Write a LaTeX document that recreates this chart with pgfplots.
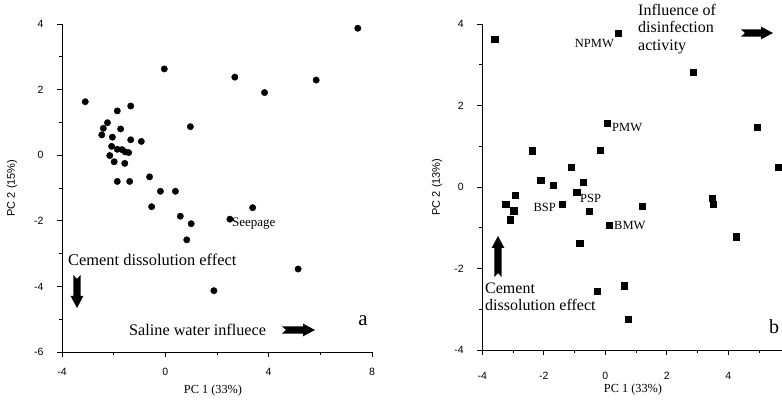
\documentclass[border=0pt]{standalone}
\usepackage{fontspec}
\setmainfont{Liberation Serif}
\setsansfont{Liberation Sans}
\usepackage{pgfplots}
\pgfplotsset{compat=1.18}
\newcommand{\blockarrow}[4]{%
  \begin{scope}[shift={(#1pt,#2pt)},rotate=#3]
  \pgfmathsetmacro{\L}{#4}\pgfmathsetmacro{\H}{#4-12}
  \fill[black] (0pt,3.6pt) -- (\H pt,3.6pt) -- (\H pt,6.4pt) -- (\L pt,0pt) -- (\H pt,-6.4pt) -- (\H pt,-3.6pt) -- (0pt,-3.6pt) -- (4pt,0pt) -- cycle;
  \end{scope}}
\pgfplotsset{
  pcaaxis/.style={
    scale only axis,
    axis lines=left,
    axis line style={-, line width=0.9pt},
    tick align=outside,
    major tick length=5pt,
    minor tick length=3pt,
    every tick/.style={black, line width=0.8pt},
    ticklabel style={font=\fontsize{10.5}{12}\selectfont\sffamily},
    yticklabel style={xshift=-10pt},
    clip=false,
  }
}
\begin{document}
\begin{tikzpicture}
% ---------- Panel a ----------
\begin{axis}[pcaaxis,
  at={(62pt,49pt)}, anchor=south west,
  width=310pt, height=328pt,
  xmin=-4, xmax=8, ymin=-6, ymax=4,
  xtick={-4,0,4,8}, xticklabels={-4,0,4,8},
  minor xtick={-2,2,6},
  ytick={-6,-4,-2,0,2,4}, yticklabels={-6,-4,-2,0,2,4},
  minor ytick={-5,-3,-1,1,3},
  xticklabel style={yshift=-8pt},
]
\addplot[only marks, mark=*, mark size=3.2pt, black] coordinates {
(-3.10,1.63) (-0.04,2.63) (2.69,2.38) (3.84,1.91) (5.84,2.29) (7.45,3.87)
(0.97,0.87) (-1.34,1.50) (-1.86,1.35) (-2.24,0.99) (-2.40,0.82) (-2.46,0.62)
(-1.73,0.80) (-2.05,0.55) (-1.34,0.47) (-0.93,0.42) (-2.08,0.27) (-1.86,0.18)
(-1.68,0.17) (-1.55,0.10) (-1.42,0.08) (-2.15,-0.01) (-1.98,-0.20) (-1.57,-0.25)
(-0.61,-0.66) (-1.86,-0.80) (-1.38,-0.80) (-0.19,-1.10) (0.39,-1.10)
(-0.53,-1.57) (0.58,-1.86) (1.00,-2.09) (0.83,-2.58) (3.38,-1.60)
(2.50,-1.95) (5.14,-3.47) (1.88,-4.13)
};
\end{axis}
% ---------- Panel b ----------
\begin{axis}[pcaaxis,
  at={(482.3pt,51pt)}, anchor=south west,
  width=307.4pt, height=326pt,
  xmin=-4, xmax=6, ymin=-4, ymax=4,
  xtick={-4,-2,0,2,4,6}, xticklabels={-4,-2,0,2,4,{}},
  minor xtick={-3,-1,1,3,5},
  ytick={-4,-2,0,2,4}, yticklabels={-4,-2,0,2,4},
  minor ytick={-3,-1,1,3},
  xticklabel style={yshift=-14pt},
]
\addplot[only marks, mark=square*, mark size=3.1pt, black] coordinates {
(-3.60,3.62) (0.43,3.77) (2.85,2.82) (0.07,1.56) (-0.16,0.90) (-2.38,0.89)
(-1.10,0.48) (-2.10,0.16) (-1.69,0.05) (-0.73,0.11) (4.93,1.47) (5.64,0.48)
(-2.92,-0.20) (-0.93,-0.13) (3.47,-0.27) (-3.24,-0.43) (-2.98,-0.58)
(-3.10,-0.80) (-1.40,-0.43) (-0.53,-0.60) (1.19,-0.47) (3.50,-0.43)
(0.12,-0.94) (-0.83,-1.38) (4.26,-1.22) (-0.25,-2.55) (0.61,-2.42) (0.75,-3.25)
};
\end{axis}
% ---------- axis labels ----------
\node[font=\fontsize{12.3}{14}\selectfont, inner sep=0pt] at (213pt,10pt) {PC 1 (33\%)};
\node[font=\fontsize{12.3}{14}\selectfont, inner sep=0pt] at (633pt,11pt) {PC 1 (33\%)};
\node[rotate=90, font=\fontsize{11}{13}\selectfont\sffamily, inner sep=0pt] at (12pt,213pt) {PC 2 (15\%)};
\node[rotate=90, font=\fontsize{11}{13}\selectfont\sffamily, inner sep=0pt] at (437pt,214pt) {PC 2 (13\%)};
% ---------- annotations panel a ----------
\node[anchor=west, font=\fontsize{13}{15}\selectfont, inner sep=0pt] at (232pt,177pt) {Seepage};
\node[anchor=west, font=\fontsize{16.4}{18}\selectfont, inner sep=0pt] at (68pt,141pt) {Cement dissolution effect};
\node[anchor=west, font=\fontsize{16.2}{18}\selectfont, inner sep=0pt] at (129pt,71pt) {Saline water influece};
\node[font=\fontsize{21}{23}\selectfont, inner sep=0pt] at (363pt,80pt) {a};
\blockarrow{77}{126}{-90}{33}
\blockarrow{282}{71}{0}{33}
% ---------- annotations panel b ----------
\node[anchor=north west, align=left, font=\fontsize{16}{17.5}\selectfont, inner sep=0pt] at (638pt,397pt) {Influence of\\disinfection\\activity};
\blockarrow{741}{368}{0}{32}
\node[anchor=east, font=\fontsize{12.5}{14}\selectfont, inner sep=0pt] at (614pt,357pt) {NPMW};
\node[anchor=west, font=\fontsize{12.5}{14}\selectfont, inner sep=0pt] at (612pt,273pt) {PMW};
\node[anchor=west, font=\fontsize{12.5}{14}\selectfont, inner sep=0pt] at (580pt,203pt) {PSP};
\node[anchor=east, font=\fontsize{12.5}{14}\selectfont, inner sep=0pt] at (556pt,194pt) {BSP};
\node[anchor=west, font=\fontsize{12.5}{14}\selectfont, inner sep=0pt] at (614pt,175pt) {BMW};
\blockarrow{498}{124}{90}{41}
\node[anchor=north west, align=left, font=\fontsize{16}{16.5}\selectfont, inner sep=0pt] at (485pt,118pt) {Cement\\dissolution effect};
\node[font=\fontsize{20}{22}\selectfont, inner sep=0pt] at (774pt,74pt) {b};
\pgfresetboundingbox
\useasboundingbox (0pt,0pt) rectangle (782pt,401pt);
\end{tikzpicture}
\end{document}
